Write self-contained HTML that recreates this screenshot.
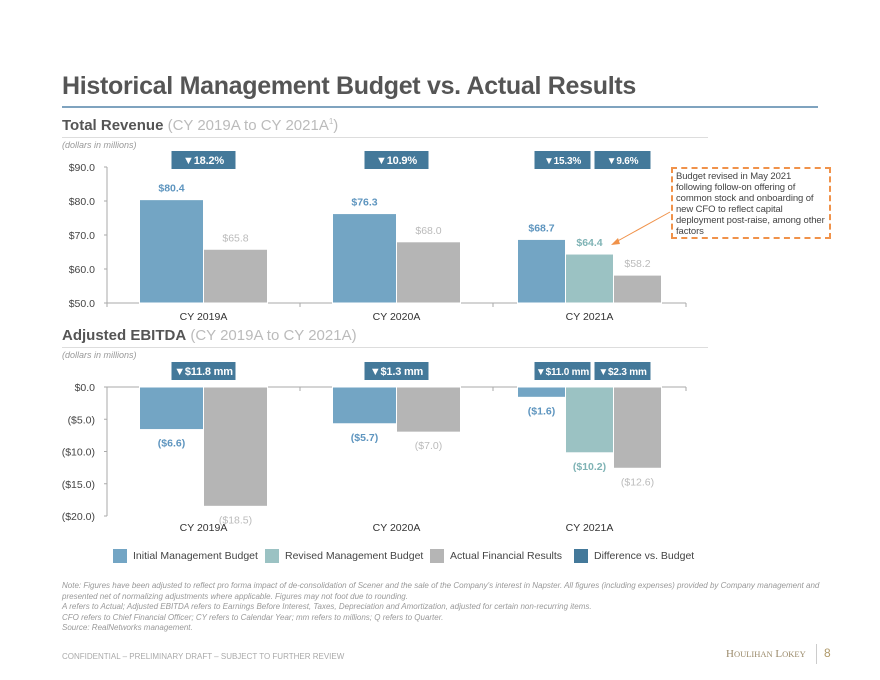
<!DOCTYPE html>
<html><head><meta charset="utf-8"><style>
body{margin:0;width:880px;height:680px;background:#fff;font-family:"Liberation Sans",sans-serif;position:relative;overflow:hidden}
.a{position:absolute}
.lg{position:absolute;display:flex;align-items:center;font-size:10.5px;color:#444;white-space:nowrap}
.lg i{width:14px;height:14px;margin-right:6px;display:inline-block}
</style></head><body>
<div class="a" style="left:62px;top:72px;font-size:25px;font-weight:bold;color:#555;letter-spacing:-0.3px">Historical Management Budget vs. Actual Results</div>
<div class="a" style="left:62px;top:106px;width:756px;height:2px;background:#7fa3bf"></div>
<div class="a" style="left:62px;top:117px;font-size:15px;color:#555"><b>Total Revenue</b> <span style="color:#bbb">(CY 2019A to CY 2021A<sup style="font-size:8px">1</sup>)</span></div>
<div class="a" style="left:62px;top:137px;width:646px;height:1px;background:#ddd"></div>
<div class="a" style="left:62px;top:140px;font-size:9px;font-style:italic;color:#999">(dollars in millions)</div>
<div class="a" style="left:62px;top:327px;font-size:15px;color:#555"><b>Adjusted EBITDA</b> <span style="color:#bbb">(CY 2019A to CY 2021A)</span></div>
<div class="a" style="left:62px;top:347px;width:646px;height:1px;background:#ddd"></div>
<div class="a" style="left:62px;top:350px;font-size:9px;font-style:italic;color:#999">(dollars in millions)</div>
<div class="a" style="left:671px;top:167px;width:150px;height:64px;border:2px dashed #f0924a;padding:2px 3px;font-size:9.5px;line-height:11px;color:#444;letter-spacing:-0.1px">Budget revised in May 2021 following follow-on offering of common stock and onboarding of new CFO to reflect capital deployment post-raise, among other factors</div>
<svg class="a" style="left:0;top:0" width="880" height="680" id="chart"></svg>
<span class="lg" style="left:113px;top:549px"><i style="background:#73a5c4"></i>Initial Management Budget</span>
<span class="lg" style="left:265px;top:549px"><i style="background:#9bc2c3"></i>Revised Management Budget</span>
<span class="lg" style="left:430px;top:549px"><i style="background:#b5b5b5"></i>Actual Financial Results</span>
<span class="lg" style="left:574px;top:549px"><i style="background:#44799a"></i>Difference vs. Budget</span>
<div class="a" style="left:62px;top:581px;width:760px;font-size:8px;line-height:10.5px;font-style:italic;color:#999">Note: Figures have been adjusted to reflect pro forma impact of de-consolidation of Scener and the sale of the Company's interest in Napster. All figures (including expenses) provided by Company management and presented net of normalizing adjustments where applicable. Figures may not foot due to rounding.<br>A refers to Actual; Adjusted EBITDA refers to Earnings Before Interest, Taxes, Depreciation and Amortization, adjusted for certain non-recurring items.<br>CFO refers to Chief Financial Officer; CY refers to Calendar Year; mm refers to millions; Q refers to Quarter.<br>Source: RealNetworks management.</div>
<div class="a" style="left:62px;top:652px;font-size:8px;color:#aaa">CONFIDENTIAL – PRELIMINARY DRAFT – SUBJECT TO FURTHER REVIEW</div>
<div class="a" style="left:726px;top:648px;font-family:'Liberation Serif',serif;font-size:11px;color:#9a8a6a">H<span style="font-size:8.5px">OULIHAN</span> L<span style="font-size:8.5px">OKEY</span></div>
<div class="a" style="left:816px;top:644px;width:1px;height:20px;background:#ccc"></div>
<div class="a" style="left:824px;top:646px;font-size:12px;color:#b09a6a">8</div>
<script>
const categories=["CY 2019A","CY 2020A","CY 2021A"];
const revInitial=[80.4,76.3,68.7];
const revRevised=[null,null,64.4];
const revActual=[65.8,68.0,58.2];
const revBadges=[["▼18.2%"],["▼10.9%"],["▼15.3%","▼9.6%"]];
const revTicks=[90,80,70,60,50];
const ebInitial=[-6.6,-5.7,-1.6];
const ebRevised=[null,null,-10.2];
const ebActual=[-18.5,-7.0,-12.6];
const ebBadges=[["▼$11.8 mm"],["▼$1.3 mm"],["▼$11.0 mm","▼$2.3 mm"]];
const ebTicks=[0,-5,-10,-15,-20];
const svg=document.getElementById('chart');
const NS='http://www.w3.org/2000/svg';
function mk(t,a,txt){const e=document.createElementNS(NS,t);for(const k in a)e.setAttribute(k,a[k]);if(txt!=null)e.textContent=txt;svg.appendChild(e);return e;}
const x0=107,cw=193;
const colors={i:'#73a5c4',r:'#9bc2c3',a:'#b5b5b5'};
const lblColors={i:'#5e95bf',r:'#7fb3b5',a:'#bbb'};
function fmtRev(v){return '$'+v.toFixed(1);}
function fmtEb(v){return '($'+Math.abs(v).toFixed(1)+')';}
function drawChart(o){
  const y=v=>o.yTop+(o.vTop-v)/(o.vTop-o.vBot)*(o.yBot-o.yTop);
  const ax=mk('line',{x1:x0,x2:x0,y1:y(o.vTop),y2:y(o.vBot),stroke:'#aaa'});
  
  o.ticks.forEach(t=>{
    mk('line',{x1:x0-3,x2:x0,y1:y(t),y2:y(t),stroke:'#aaa'});
    const tl=mk('text',{x:x0-12,y:y(t)+4,'text-anchor':'end','font-size':10.5,fill:'#444'},t<0?'($'+Math.abs(t).toFixed(1)+')':'$'+t.toFixed(1));
    
  });
  const base=y(o.base);
  const bl=mk('line',{x1:x0,x2:x0+3*cw,y1:base,y2:base,stroke:'#aaa'});
  
  for(let k=0;k<=3;k++)mk('line',{x1:x0+k*cw,x2:x0+k*cw,y1:base,y2:base+4,stroke:'#aaa'});
  categories.forEach((c,i)=>{
    const cat=mk('text',{x:x0+i*cw+cw/2,y:o.catY,'text-anchor':'middle','font-size':10.5,fill:'#333'},c);
    
    const series=[['i',o.ini[i]],['r',o.rev[i]],['a',o.act[i]]].filter(s=>s[1]!=null);
    const bw=series.length===3?48:64;
    let bx=x0+i*cw+(cw-bw*series.length)/2;
    series.forEach(([k,v])=>{
      const yv=y(v),top=Math.min(yv,base),h=Math.abs(yv-base);
      const r=mk('rect',{x:bx,y:top,width:bw,height:h,fill:colors[k],stroke:'#fff','stroke-width':1});
      
      const ly=v>=0?yv-8:yv+17;
      const t=mk('text',{x:bx+bw/2,y:ly,'text-anchor':'middle','font-size':10.5,'font-weight':k==='a'?'normal':'bold',fill:lblColors[k]},o.fmt(v));
      
      bx+=bw;
    });
    const bs=o.badges[i];const bwid=56,gap=4;
    let sx=bs.length===1?x0+i*cw+cw/2-32:x0+i*cw+(cw-(bwid*2+gap))/2+3;
    bs.forEach(b=>{
      const w=bs.length===1?64:bwid;
      const br=mk('rect',{x:sx,y:o.badgeY,width:w,height:18,fill:'#44799a'});
      
      mk('text',{x:sx+w/2,y:o.badgeY+13,'text-anchor':'middle','font-size':bs.length===1?11:10,'font-weight':'bold',fill:'#fff','letter-spacing':-0.2},b);
      sx+=w+gap;
    });
  });
}
drawChart({name:'revenue',yTop:167,yBot:303,vTop:90,vBot:50,base:50,ticks:revTicks,ini:revInitial,rev:revRevised,act:revActual,fmt:fmtRev,badges:revBadges,badgeY:151,catY:320});
drawChart({name:'ebitda',yTop:387,yBot:516,vTop:0,vBot:-20,base:0,ticks:ebTicks,ini:ebInitial,rev:ebRevised,act:ebActual,fmt:fmtEb,badges:ebBadges,badgeY:362,catY:531});
const ar=mk('line',{x1:670,y1:212,x2:614,y2:243,stroke:'#f0924a','stroke-width':1});

mk('polygon',{points:'611,245 618,238 620,244',fill:'#f0924a'});
</script>
</body></html>
